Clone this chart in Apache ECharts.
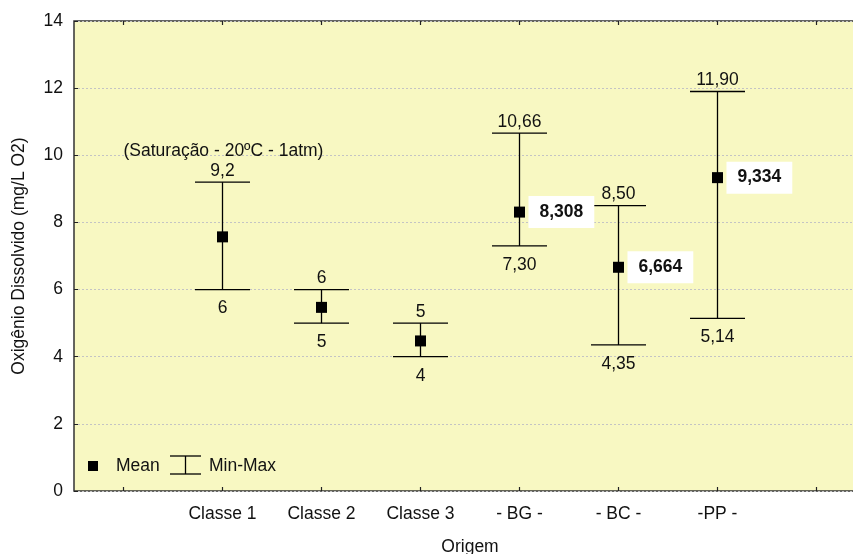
<!DOCTYPE html>
<html>
<head>
<meta charset="utf-8">
<script src="https://cdn.jsdelivr.net/npm/echarts@6/dist/echarts.min.js"></script>
<style>html,body{margin:0;padding:0;background:#fff}#c{width:853px;height:554px}</style>
</head>
<body>
<div id="c"></div>
<script>
// ---- data ----
var categories = ['', 'Classe 1', 'Classe 2', 'Classe 3', '- BG -', '- BC -', '-PP -', ' '];
var groups = ['Classe 1', 'Classe 2', 'Classe 3', '- BG -', '- BC -', '-PP -'];
var means = [7.57, 5.47, 4.47, 8.308, 6.664, 9.334];
var mins = [6, 5, 4, 7.30, 4.35, 5.14];
var maxs = [9.2, 6, 5, 10.66, 8.50, 11.90];
var minLabels = ['6', '5', '4', '7,30', '4,35', '5,14'];
var maxLabels = ['9,2', '6', '5', '10,66', '8,50', '11,90'];
var meanLabels = ['', '', '', '8,308', '6,664', '9,334'];
var yTicks = [0, 2, 4, 6, 8, 10, 12, 14];
var note = '(Saturação - 20ºC - 1atm)';
var noteAt = ['', 10.13];

var FONT = '"Liberation Sans", Arial, sans-serif';
var FS = 17.5;

var chart = echarts.init(document.getElementById('c'), null, {renderer: 'canvas'});

var errData = groups.map(function (g, i) { return [g, mins[i], maxs[i]]; });
var meanData = groups.map(function (g, i) {
  var d = {value: [g, means[i]]};
  if (meanLabels[i]) {
    d.label = {show: true, formatter: meanLabels[i]};
  }
  return d;
});

var option = {
  animation: false,
  backgroundColor: '#ffffff',
  textStyle: {fontFamily: FONT, color: '#111'},
  grid: {
    left: 74, top: 21, bottom: 63, right: -13,
    outerBoundsMode: 'none', containLabel: false,
    show: true, backgroundColor: '#F8F8C2', borderColor: '#333', borderWidth: 1.5
  },
  xAxis: [{
    type: 'category', data: categories, position: 'bottom',
    boundaryGap: true,
    axisLine: {show: false},
    axisTick: {show: true, inside: true, length: 4, alignWithLabel: true, lineStyle: {color: '#222', width: 1.2}},
    axisLabel: {fontSize: FS, color: '#111', margin: 14, fontFamily: FONT, interval: 0},
    splitLine: {show: false},
    name: 'Origem', nameLocation: 'middle', nameGap: 47,
    nameTextStyle: {fontSize: FS, color: '#111', fontFamily: FONT}
  }, {
    type: 'category', data: categories, position: 'top',
    boundaryGap: true,
    axisLine: {show: false},
    axisTick: {show: true, inside: true, length: 4, alignWithLabel: true, lineStyle: {color: '#222', width: 1.2}},
    axisLabel: {show: false}
  }],
  yAxis: {
    type: 'value', min: yTicks[0], max: yTicks[yTicks.length - 1], interval: 2,
    axisLine: {show: false},
    axisTick: {show: true, inside: true, length: 4, lineStyle: {color: '#222'}},
    axisLabel: {fontSize: FS, color: '#111', margin: 11, fontFamily: FONT},
    splitLine: {show: true, lineStyle: {color: '#c4c4c4', type: [2, 2], width: 1}},
    name: 'Oxigênio Dissolvido (mg/L O2)', nameLocation: 'middle', nameGap: 46,
    nameTextStyle: {fontSize: FS, color: '#111', fontFamily: FONT}
  },
  series: [{
    type: 'custom',
    xAxisIndex: 0,
    data: errData,
    encode: {x: 0, y: [1, 2]},
    renderItem: function (params, api) {
      var idx = params.dataIndex;
      var x = api.value(0);
      var pLo = api.coord([x, api.value(1)]);
      var pHi = api.coord([x, api.value(2)]);
      var half = 27.5;
      var st = {stroke: '#000', lineWidth: 1.3};
      return {
        type: 'group',
        children: [
          {type: 'line', shape: {x1: pLo[0], y1: pLo[1], x2: pHi[0], y2: pHi[1]}, style: st},
          {type: 'line', shape: {x1: pLo[0] - half, y1: pLo[1], x2: pLo[0] + half, y2: pLo[1]}, style: st},
          {type: 'line', shape: {x1: pHi[0] - half, y1: pHi[1], x2: pHi[0] + half, y2: pHi[1]}, style: st},
          {type: 'text', style: {text: maxLabels[idx], x: pHi[0], y: pHi[1] - 11, align: 'center', verticalAlign: 'middle',
            font: FS + 'px ' + FONT, fill: '#111'}},
          {type: 'text', style: {text: minLabels[idx], x: pLo[0], y: pLo[1] + 19, align: 'center', verticalAlign: 'middle',
            font: FS + 'px ' + FONT, fill: '#111'}}
        ]
      };
    },
    z: 3
  }, {
    type: 'scatter',
    data: meanData,
    symbol: 'rect', symbolSize: 11,
    itemStyle: {color: '#000', opacity: 1},
    label: {
      show: false, position: 'right', distance: 3.5,
      fontSize: FS, fontWeight: 'bold', color: '#111', fontFamily: FONT,
      backgroundColor: '#ffffff', padding: [7, 11, 7, 11], opacity: 1
    },
    z: 5
  }, {
    type: 'scatter',
    data: [noteAt],
    symbolSize: 0,
    silent: true,
    itemStyle: {opacity: 1},
    label: {show: true, position: 'right', distance: 0, formatter: note,
      fontSize: FS, color: '#111', fontFamily: FONT, opacity: 1},
    z: 4
  }],
  graphic: [
    {type: 'rect', shape: {x: 88, y: 461, width: 10, height: 10}, style: {fill: '#000'}, z: 10},
    {type: 'text', x: 116, y: 466, style: {text: 'Mean', font: FS + 'px ' + FONT, fill: '#111', verticalAlign: 'middle'}, z: 10},
    {type: 'line', shape: {x1: 170, y1: 456, x2: 201, y2: 456}, style: {stroke: '#000', lineWidth: 1.3}, z: 10},
    {type: 'line', shape: {x1: 170, y1: 474, x2: 201, y2: 474}, style: {stroke: '#000', lineWidth: 1.3}, z: 10},
    {type: 'line', shape: {x1: 185.5, y1: 456, x2: 185.5, y2: 474}, style: {stroke: '#000', lineWidth: 1.3}, z: 10},
    {type: 'text', x: 209, y: 466, style: {text: 'Min-Max', font: FS + 'px ' + FONT, fill: '#111', verticalAlign: 'middle'}, z: 10}
  ]
};
chart.setOption(option);
</script>
</body>
</html>
